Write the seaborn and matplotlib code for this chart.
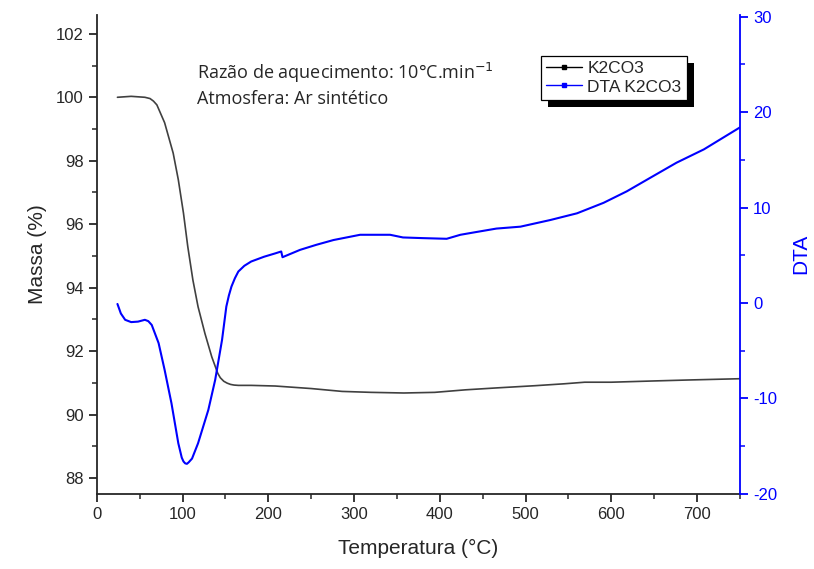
import numpy as np
import pandas as pd
import matplotlib.pyplot as plt
import seaborn as sns
from matplotlib.lines import Line2D
from matplotlib.patches import Rectangle
from matplotlib.transforms import IdentityTransform
from matplotlib.ticker import MultipleLocator

# TG curve (mass %)
temp_tg = [24, 40, 56, 62, 66, 70, 79, 89, 95, 101, 106, 112, 118, 126, 134, 141, 144, 148, 152,
           156, 160, 165, 180, 208, 250, 286, 320, 358, 394, 430, 466, 511, 545, 569, 600, 650,
           690, 720, 750]
mass = [100.0, 100.03, 100.0, 99.96, 99.88, 99.76, 99.2, 98.24, 97.4, 96.35, 95.3, 94.24, 93.4,
        92.56, 91.82, 91.3, 91.16, 91.05, 90.99, 90.95, 90.93, 90.92, 90.92, 90.9, 90.82, 90.73,
        90.7, 90.68, 90.7, 90.78, 90.84, 90.91, 90.97, 91.02, 91.02, 91.06, 91.09, 91.11, 91.13]

# DTA curve
temp_dta = [24, 28, 33, 40, 48, 56, 60, 64, 72, 79, 87, 95, 99, 101, 103, 105, 107, 109, 111,
            118, 130, 138, 146, 151, 154, 157, 161, 165, 172, 180, 195, 208, 215, 216.5, 237, 256,
            276, 307, 342, 357, 380, 408, 424, 440, 466, 494, 529, 560, 591, 618, 645, 676, 708,
            750]
dta = [-0.1, -1.1, -1.76, -2.0, -1.95, -1.76, -1.9, -2.3, -4.2, -7.0, -10.5, -14.7, -16.2, -16.6,
       -16.8, -16.85, -16.7, -16.5, -16.3, -14.7, -11.2, -8.05, -3.86, -0.37, 0.8, 1.73, 2.6,
       3.3, 3.9, 4.35, 4.85, 5.2, 5.4, 4.8, 5.57, 6.1, 6.6, 7.15, 7.15, 6.87, 6.8, 6.73, 7.15,
       7.4, 7.8, 8.0, 8.7, 9.4, 10.5, 11.7, 13.1, 14.7, 16.1, 18.4]

tg_df = pd.DataFrame({'Temperatura': temp_tg, 'Massa': mass})
dta_df = pd.DataFrame({'Temperatura': temp_dta, 'DTA': dta})

sns.set_style("ticks")
plt.rcParams['font.family'] = ['Liberation Sans', 'DejaVu Sans']
plt.rcParams['axes.unicode_minus'] = False

fig = plt.figure(figsize=(8.14, 5.69), dpi=100)
ax = fig.add_axes([0.119, 0.132, 0.790, 0.842])
ax2 = ax.twinx()

sns.lineplot(data=tg_df, x='Temperatura', y='Massa', ax=ax, color='#404040', lw=1.2, sort=False)
sns.lineplot(data=dta_df, x='Temperatura', y='DTA', ax=ax2, color='#0000ff', lw=1.5, sort=False)

ax.set_xlim(0, 750)
ax.set_ylim(87.5, 102.6)
ax2.set_ylim(-20, 30.2)

ax.set_xticks(range(0, 701, 100))
ax.xaxis.set_minor_locator(MultipleLocator(50))
ax.set_yticks(range(88, 103, 2))
ax.yaxis.set_minor_locator(MultipleLocator(1))
ax2.set_yticks(range(-20, 31, 10))
ax2.yaxis.set_minor_locator(MultipleLocator(5))

ax.set_xlabel('Temperatura (°C)', fontsize=15, labelpad=12)
ax.set_ylabel('Massa (%)', fontsize=15, labelpad=6)
ax2.set_ylabel('DTA', fontsize=15, color='#0000ff', rotation=90, labelpad=10)

for a in (ax, ax2):
    a.tick_params(which='major', direction='out', length=6, width=1.3, labelsize=12)
    a.tick_params(which='minor', direction='out', length=3.5, width=1.1)
    a.spines['top'].set_visible(False)
    a.grid(False)
ax.spines['right'].set_visible(False)
ax.spines['left'].set_linewidth(1.3)
ax.spines['bottom'].set_linewidth(1.3)
ax2.spines['left'].set_visible(False)
ax2.spines['bottom'].set_visible(False)
ax2.spines['right'].set_color('#0000ff')
ax2.spines['right'].set_linewidth(1.3)
ax2.tick_params(axis='y', which='both', colors='#0000ff')

ax.text(0.155, 0.867, 'Razão de aquecimento: 10°C.min$^{-1}$', transform=ax.transAxes,
        fontsize=13, family=['Open Sans', 'DejaVu Sans'])
ax.text(0.155, 0.813, 'Atmosfera: Ar sintético', transform=ax.transAxes,
        fontsize=13, family=['Open Sans', 'DejaVu Sans'])

handles = [Line2D([], [], color='#000000', lw=1, marker='s', markersize=2.5),
           Line2D([], [], color='#0000ff', lw=1, marker='s', markersize=2.5)]
leg = ax2.legend(handles, ['K2CO3', 'DTA K2CO3'], loc='upper left', bbox_to_anchor=(0.69, 0.915),
                 fontsize=12.5, fancybox=False, framealpha=1, edgecolor='black',
                 handlelength=2.1, handletextpad=0.3, borderpad=0.3, labelspacing=0.2,
                 borderaxespad=0)
leg.get_frame().set_linewidth(0.9)
leg.set_zorder(6)

# heavy black drop shadow behind the legend box
fig.canvas.draw()
bb = leg.get_window_extent()
ax2.add_patch(Rectangle((bb.x0 + 7, bb.y0 - 7), bb.width, bb.height, transform=IdentityTransform(),
                        facecolor='black', edgecolor='none', zorder=5, clip_on=False))

plt.savefig('out.png', dpi=100)
